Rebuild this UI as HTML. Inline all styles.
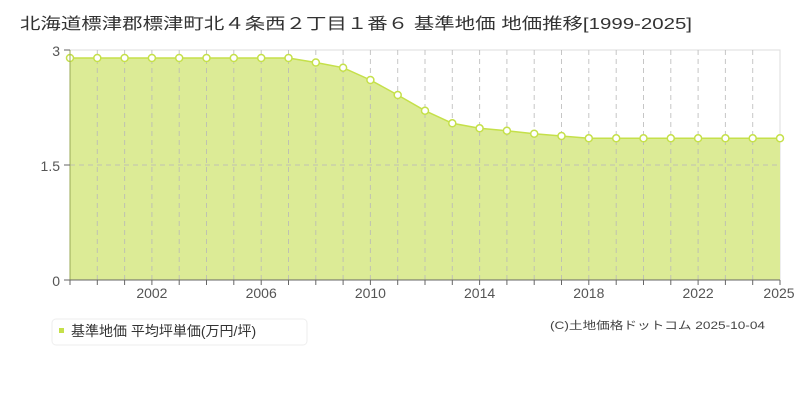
<!DOCTYPE html>
<html><head><meta charset="utf-8"><style>
body{margin:0;background:#fff;width:800px;height:400px;overflow:hidden;font-family:"Liberation Sans","Noto Sans CJK JP",sans-serif;}
</style></head><body>
<svg width="800" height="400" xmlns="http://www.w3.org/2000/svg" font-family="'Liberation Sans','Noto Sans CJK JP',sans-serif">
<text x="20" y="29" font-size="16" fill="#333" textLength="672" lengthAdjust="spacingAndGlyphs">北海道標津郡標津町北４条西２丁目１番６ 基準地価 地価推移[1999-2025]</text>
<rect x="70" y="50" width="710" height="230" fill="#fff" stroke="#ddd"/>
<polygon fill="#dceb96" points="70,280 70,58 97.3,58 124.6,58 151.9,58 179.2,58 206.5,58 233.8,58 261.2,58 288.5,58 315.8,62.5 343.1,67.7 370.4,80 397.7,95 425,110.7 452.3,123.3 479.6,128.3 506.9,130.7 534.2,133.7 561.5,136 588.8,138.3 616.2,138.3 643.5,138.3 670.8,138.3 698.1,138.3 725.4,138.3 752.7,138.3 780,138.3 780,280"/>
<g stroke="#b8b8b8" stroke-opacity="0.8" stroke-dasharray="5,4" stroke-width="1">
<line x1="97.3" y1="50" x2="97.3" y2="280"/><line x1="124.6" y1="50" x2="124.6" y2="280"/><line x1="151.9" y1="50" x2="151.9" y2="280"/><line x1="179.2" y1="50" x2="179.2" y2="280"/><line x1="206.5" y1="50" x2="206.5" y2="280"/><line x1="233.8" y1="50" x2="233.8" y2="280"/><line x1="261.2" y1="50" x2="261.2" y2="280"/><line x1="288.5" y1="50" x2="288.5" y2="280"/><line x1="315.8" y1="50" x2="315.8" y2="280"/><line x1="343.1" y1="50" x2="343.1" y2="280"/><line x1="370.4" y1="50" x2="370.4" y2="280"/><line x1="397.7" y1="50" x2="397.7" y2="280"/><line x1="425" y1="50" x2="425" y2="280"/><line x1="452.3" y1="50" x2="452.3" y2="280"/><line x1="479.6" y1="50" x2="479.6" y2="280"/><line x1="506.9" y1="50" x2="506.9" y2="280"/><line x1="534.2" y1="50" x2="534.2" y2="280"/><line x1="561.5" y1="50" x2="561.5" y2="280"/><line x1="588.8" y1="50" x2="588.8" y2="280"/><line x1="616.2" y1="50" x2="616.2" y2="280"/><line x1="643.5" y1="50" x2="643.5" y2="280"/><line x1="670.8" y1="50" x2="670.8" y2="280"/><line x1="698.1" y1="50" x2="698.1" y2="280"/><line x1="725.4" y1="50" x2="725.4" y2="280"/><line x1="752.7" y1="50" x2="752.7" y2="280"/>
<line x1="70" y1="165" x2="780" y2="165"/>
</g>
<polyline fill="none" stroke="#c5e04a" stroke-width="1.5" points="70,58 97.3,58 124.6,58 151.9,58 179.2,58 206.5,58 233.8,58 261.2,58 288.5,58 315.8,62.5 343.1,67.7 370.4,80 397.7,95 425,110.7 452.3,123.3 479.6,128.3 506.9,130.7 534.2,133.7 561.5,136 588.8,138.3 616.2,138.3 643.5,138.3 670.8,138.3 698.1,138.3 725.4,138.3 752.7,138.3 780,138.3"/>
<g fill="#fff" stroke="#c5e04a" stroke-width="1.5">
<circle cx="70" cy="58" r="3.5"/><circle cx="97.3" cy="58" r="3.5"/><circle cx="124.6" cy="58" r="3.5"/><circle cx="151.9" cy="58" r="3.5"/><circle cx="179.2" cy="58" r="3.5"/><circle cx="206.5" cy="58" r="3.5"/><circle cx="233.8" cy="58" r="3.5"/><circle cx="261.2" cy="58" r="3.5"/><circle cx="288.5" cy="58" r="3.5"/><circle cx="315.8" cy="62.5" r="3.5"/><circle cx="343.1" cy="67.7" r="3.5"/><circle cx="370.4" cy="80" r="3.5"/><circle cx="397.7" cy="95" r="3.5"/><circle cx="425" cy="110.7" r="3.5"/><circle cx="452.3" cy="123.3" r="3.5"/><circle cx="479.6" cy="128.3" r="3.5"/><circle cx="506.9" cy="130.7" r="3.5"/><circle cx="534.2" cy="133.7" r="3.5"/><circle cx="561.5" cy="136" r="3.5"/><circle cx="588.8" cy="138.3" r="3.5"/><circle cx="616.2" cy="138.3" r="3.5"/><circle cx="643.5" cy="138.3" r="3.5"/><circle cx="670.8" cy="138.3" r="3.5"/><circle cx="698.1" cy="138.3" r="3.5"/><circle cx="725.4" cy="138.3" r="3.5"/><circle cx="752.7" cy="138.3" r="3.5"/><circle cx="780" cy="138.3" r="3.5"/>
</g>
<line x1="70" y1="50" x2="70" y2="280" stroke="#99aa55"/>
<line x1="64" y1="280" x2="780" y2="280" stroke="#666"/>
<g stroke="#666"><line x1="64" y1="50" x2="70" y2="50"/><line x1="64" y1="165" x2="70" y2="165"/>
<line x1="70" y1="280" x2="70" y2="285"/><line x1="97.3" y1="280" x2="97.3" y2="285"/><line x1="124.6" y1="280" x2="124.6" y2="285"/><line x1="151.9" y1="280" x2="151.9" y2="285"/><line x1="179.2" y1="280" x2="179.2" y2="285"/><line x1="206.5" y1="280" x2="206.5" y2="285"/><line x1="233.8" y1="280" x2="233.8" y2="285"/><line x1="261.2" y1="280" x2="261.2" y2="285"/><line x1="288.5" y1="280" x2="288.5" y2="285"/><line x1="315.8" y1="280" x2="315.8" y2="285"/><line x1="343.1" y1="280" x2="343.1" y2="285"/><line x1="370.4" y1="280" x2="370.4" y2="285"/><line x1="397.7" y1="280" x2="397.7" y2="285"/><line x1="425" y1="280" x2="425" y2="285"/><line x1="452.3" y1="280" x2="452.3" y2="285"/><line x1="479.6" y1="280" x2="479.6" y2="285"/><line x1="506.9" y1="280" x2="506.9" y2="285"/><line x1="534.2" y1="280" x2="534.2" y2="285"/><line x1="561.5" y1="280" x2="561.5" y2="285"/><line x1="588.8" y1="280" x2="588.8" y2="285"/><line x1="616.2" y1="280" x2="616.2" y2="285"/><line x1="643.5" y1="280" x2="643.5" y2="285"/><line x1="670.8" y1="280" x2="670.8" y2="285"/><line x1="698.1" y1="280" x2="698.1" y2="285"/><line x1="725.4" y1="280" x2="725.4" y2="285"/><line x1="752.7" y1="280" x2="752.7" y2="285"/><line x1="780" y1="280" x2="780" y2="285"/></g>
<g font-size="14" fill="#555" text-anchor="end"><text x="60" y="56">3</text><text x="60" y="171">1.5</text><text x="60" y="286">0</text></g>
<g font-size="14" fill="#555" text-anchor="middle"><text x="151.9" y="298">2002</text><text x="261.2" y="298">2006</text><text x="370.4" y="298">2010</text><text x="479.6" y="298">2014</text><text x="588.8" y="298">2018</text><text x="698.1" y="298">2022</text><text x="779" y="298">2025</text></g>
<rect x="52" y="319" width="255" height="26" rx="4" fill="#fff" stroke="#eee"/>
<rect x="59" y="328" width="5" height="5" fill="#c5e04a"/>
<text x="71" y="336" font-size="14" fill="#333">基準地価 平均坪単価(万円/坪)</text>
<text x="550" y="329" font-size="11" fill="#444" textLength="215" lengthAdjust="spacingAndGlyphs">(C)土地価格ドットコム 2025-10-04</text>
</svg>
</body></html>
